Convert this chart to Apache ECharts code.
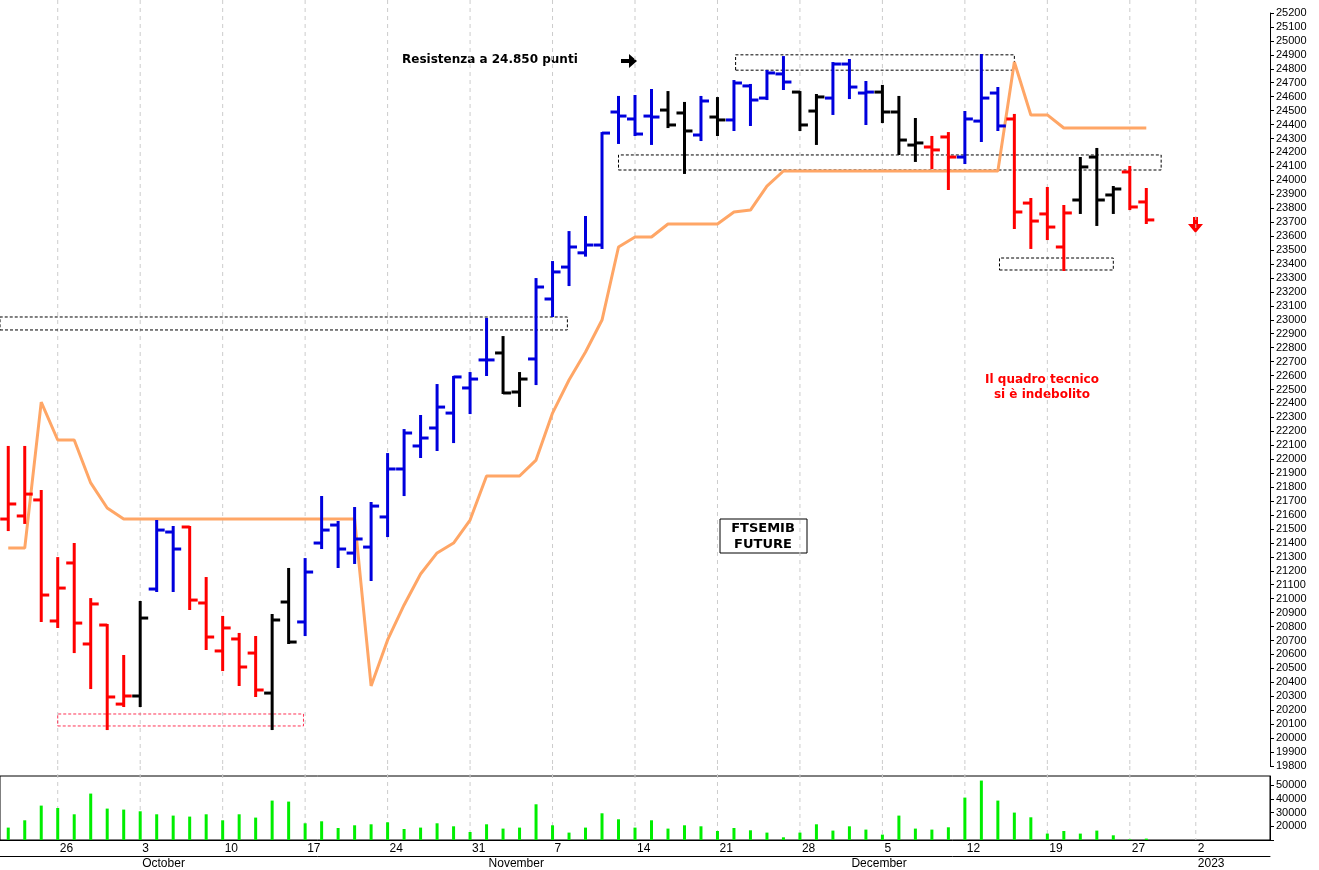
<!DOCTYPE html>
<html>
<head>
<meta charset="utf-8">
<script src="https://cdn.jsdelivr.net/npm/echarts@6/dist/echarts.min.js"></script>
<style>
html,body{margin:0;padding:0;background:#fff;}
#chart{width:1319px;height:870px;}
</style>
</head>
<body>
<div id="chart"></div>
<script>
// OHLC FTSEMIB future, dal 21 set 2022 al 28 dic 2022 (indice = giorno di borsa)
var opens  = [21571,21593,21708,20840,21256,20675,20811,20244,20302,21069,21478,21514,20969,20625,20711,20610,20323,20976,20833,21399,
              21528,21327,21370,21586,21930,22095,22224,22331,22511,22712,22762,22482,22719,23149,23378,23480,23536,24490,24440,24461,
              24504,24483,24325,24454,24433,24677,24590,24763,24633,24497,24590,24834,24626,24633,24490,24253,24239,24311,24167,24425,
              24626,24440,23837,23759,23522,23859,24167,23895,24060,23845];
var highs  = [22088,22088,21772,21291,21392,20997,20811,20589,20976,21557,21514,21514,21148,20869,20747,20725,20883,21213,21284,21729,
              21550,21650,21686,22037,22209,22310,22532,22590,22618,23006,22876,22618,23292,23414,23629,23737,24339,24598,24605,24648,
              24633,24555,24598,24590,24712,24684,24784,24884,24633,24612,24841,24863,24705,24677,24598,24440,24311,24339,24490,24899,
              24662,24469,23866,23945,23816,24160,24225,23952,24096,23938];
var lows   = [21492,21543,20840,20797,20617,20359,20065,20230,20230,21055,21055,20926,20639,20488,20381,20302,20065,20682,20739,21363,
              21227,21256,21134,21449,21743,22016,22066,22123,22331,22604,22475,22382,22539,23027,23249,23460,23515,24268,24325,24261,
              24382,24053,24289,24325,24361,24397,24583,24655,24361,24261,24476,24590,24404,24418,24189,24139,24088,23938,24124,24282,
              24361,23658,23515,23579,23357,23766,23680,23766,23794,23694];
var closes = [21679,21750,21026,21076,20825,20962,20295,20302,20861,21492,21356,20990,20725,20790,20510,20345,20847,20689,21191,21492,
              21356,21428,21664,21930,22188,22152,22374,22590,22575,22712,22475,22575,23235,23343,23522,23536,24339,24461,24332,24454,
              24397,24354,24569,24433,24698,24576,24770,24705,24397,24598,24834,24669,24633,24490,24289,24268,24218,24167,24440,24590,
              24390,23773,23708,23665,23766,24096,23859,23938,23809,23716];
// segnale: r = ribasso, b = rialzo, k = neutro
var signals = 'rrrrrrrrkbbrrrrrkkbbbbbbbbbbbbkkbbbbbbbbkkbkbbbbkkbbbkkkrrbbbrrrrkkkrr'.split('');
// linea arancio (stop)
var stopLine = [21363,21363,22410,22138,22138,21830,21650,21571,21571,21571,21571,21571,21571,21571,21571,21571,21571,21571,21571,21571,
                21571,21571,20374,20704,20955,21177,21328,21399,21564,21880,21880,21880,21994,22331,22568,22769,22998,23522,23594,23594,
                23687,23687,23687,23687,23773,23787,23959,24067,24067,24067,24067,24067,24067,24067,24067,24067,24067,24067,24067,24067,
                24067,24849,24469,24469,24375,24375,24375,24375,24375,24375];
var volumes = [19050,24380,35100,33360,28760,43870,32920,32190,30950,28760,27810,27080,28760,24380,28760,26350,38760,38030,22190,23650,
               18760,20730,21460,22920,18030,19050,22190,20000,15840,21460,18320,19050,36060,20730,15400,19050,29490,25110,19050,24380,
               18320,20730,20000,16570,18760,17080,15400,11970,15400,21460,16860,20000,17590,13940,27810,18320,17590,19270,40950,53360,
               38760,30000,26570,14670,16570,14670,16860,13430,10510,11020];
var weekStarts = [3,8,13,18,23,28,33,38,43,48,53,58,63,68,72];
var weekLabels = ['26','3','10','17','24','31','7','14','21','28','5','12','19','27','2'];
var monthStarts = [8,29,51,72];
var monthLabels = ['October','November','December','2023'];
var nSlots = 77;
// rettangoli tratteggiati: [k1, k2, p1, p2]
var boxes = [[44.1,61.0,24790,24900],[37.0,69.9,24074,24182],[-0.5,33.9,22927,23020],[60.1,67.0,23357,23443]];
var redBox = [3.0,17.9,20087,20173];

var cats = [];
for (var i = 0; i < nSlots; i++) cats.push(String(i));
var ohlc = opens.map(function (o, i) { return [i, o, highs[i], lows[i], closes[i]]; });
var line = stopLine.map(function (v, i) { return [i, v]; });
var colorOf = {r: '#ff0000', b: '#0000dd', k: '#000000'};
var labelFont = 'Liberation Sans, Arial, sans-serif';

function boxArea(b, col) {
    return [{xAxis: b[0], yAxis: b[2], itemStyle: {color: 'rgba(0,0,0,0)', borderColor: col, borderWidth: 1, borderType: [3, 2]}},
            {xAxis: b[1], yAxis: b[3]}];
}
// linee verticali tratteggiate ai lunedi, sotto le barre
function gridLines(params, api) {
    var x = api.coord([api.value(0), 0])[0];
    var cs = params.coordSys;
    return {type: 'line', shape: {x1: x, y1: cs.y - 13, x2: x, y2: cs.y + cs.height},
        style: {stroke: '#cccccc', lineWidth: 1, lineDash: [4, 4]}, silent: true};
}

var option = {
    animation: false,
    backgroundColor: '#fff',
    grid: [
        {left: 0, width: 1270, top: 13, height: 753},
        {left: 0, width: 1270, top: 776, height: 64, show: true, borderColor: '#000', borderWidth: 1}
    ],
    xAxis: [
        {type: 'value', gridIndex: 0, min: -0.5, max: nSlots - 0.5, show: false},
        {
            type: 'category', gridIndex: 1, data: cats, boundaryGap: true,
            axisLine: {onZero: false, lineStyle: {color: '#000'}},
            axisTick: {alignWithLabel: true, length: 16, lineStyle: {color: '#000'},
                interval: function (i) { return weekStarts.indexOf(i) >= 0; }},
            axisLabel: {interval: function (i) { return weekStarts.indexOf(i) >= 0; }, align: 'left', margin: 3,
                padding: [0, 0, 0, 2], fontSize: 12, fontFamily: labelFont, color: '#000',
                formatter: function (v) { var j = weekStarts.indexOf(Number(v)); return j >= 0 ? weekLabels[j] : ''; }},
            splitLine: {show: false}
        },
        {
            type: 'category', gridIndex: 1, data: cats, boundaryGap: true, position: 'bottom', offset: 16,
            axisLine: {onZero: false, lineStyle: {color: '#000'}},
            axisTick: {alignWithLabel: true, length: 14, lineStyle: {color: '#000'},
                interval: function (i) { return monthStarts.indexOf(i) >= 0; }},
            axisLabel: {interval: function (i) { return monthStarts.indexOf(i) >= 0; }, align: 'left', margin: 2,
                padding: [0, 0, 0, 2], fontSize: 12, fontFamily: labelFont, color: '#000',
                formatter: function (v) { var j = monthStarts.indexOf(Number(v)); return j >= 0 ? monthLabels[j] : ''; }}
        }
    ],
    yAxis: [
        {
            type: 'value', gridIndex: 0, position: 'right', min: 19800, max: 25200, interval: 100,
            axisLine: {show: true, onZero: false, lineStyle: {color: '#000'}},
            axisTick: {show: true, length: 4, lineStyle: {color: '#000'}},
            axisLabel: {fontSize: 11, fontFamily: labelFont, color: '#000', margin: 6,
                formatter: function (v) { return String(v); }},
            splitLine: {show: false}
        },
        {
            type: 'value', gridIndex: 1, position: 'right', min: 10000, max: 56700, interval: 10000,
            axisLine: {show: true, onZero: false, lineStyle: {color: '#000'}},
            axisTick: {show: true, length: 4, lineStyle: {color: '#000'}},
            axisLabel: {fontSize: 11, fontFamily: labelFont, color: '#000', margin: 6, showMaxLabel: false,
                formatter: function (v) { return v === 10000 ? '' : String(v); }},
            splitLine: {show: false}
        }
    ],
    series: [
        {
            type: 'custom', xAxisIndex: 0, yAxisIndex: 0, z: 0, silent: true,
            data: weekStarts.map(function (k) { return [k, 22000]; }), renderItem: gridLines
        },
        {
            type: 'custom', xAxisIndex: 1, yAxisIndex: 1, z: 0, silent: true,
            data: weekStarts.map(function (k) { return [k, 20000]; }),
            renderItem: function (params, api) {
                var x = api.coord([api.value(0), 20000])[0];
                var cs = params.coordSys;
                return {type: 'line', shape: {x1: x, y1: cs.y - 10, x2: x, y2: cs.y + cs.height},
                    style: {stroke: '#cccccc', lineWidth: 1, lineDash: [4, 4]}};
            }
        },
        {
            // rettangoli tratteggiati
            type: 'line', xAxisIndex: 0, yAxisIndex: 0, data: [], z: 1,
            markArea: {
                silent: true, label: {show: false},
                data: boxes.map(function (b) { return boxArea(b, '#000'); }).concat([boxArea(redBox, '#ff3355')])
            }
        },
        {
            type: 'line', xAxisIndex: 0, yAxisIndex: 0, data: line, symbol: 'none',
            lineStyle: {color: '#ffa666', width: 3}, z: 2
        },
        {
            type: 'custom', xAxisIndex: 0, yAxisIndex: 0, data: ohlc, z: 3,
            encode: {x: 0, y: [1, 2, 3, 4]},
            renderItem: function (params, api) {
                var k = api.value(0);
                var o = api.coord([k, api.value(1)]), h = api.coord([k, api.value(2)]),
                    l = api.coord([k, api.value(3)]), c = api.coord([k, api.value(4)]);
                var col = colorOf[signals[params.dataIndex]];
                var x = o[0], w = 8, st = {stroke: col, lineWidth: 3};
                return {type: 'group', children: [
                    {type: 'line', shape: {x1: x, y1: h[1] - 1, x2: x, y2: l[1] + 1}, style: st},
                    {type: 'line', shape: {x1: x - w, y1: o[1], x2: x, y2: o[1]}, style: st},
                    {type: 'line', shape: {x1: x, y1: c[1], x2: x + w, y2: c[1]}, style: st}
                ]};
            }
        },
        {
            type: 'bar', xAxisIndex: 1, yAxisIndex: 1, data: volumes, barWidth: 3, z: 3,
            itemStyle: {color: '#00ee00'}
        }
    ],
    graphic: [
        {type: 'text', left: 402, top: 54, style: {text: 'Resistenza a 24.850 punti', font: 'bold 12px DejaVu Sans, sans-serif', fill: '#000'}},
        {type: 'polygon', shape: {points: [[621, 59], [629, 59], [629, 54], [637, 61], [629, 68], [629, 63], [621, 63]]}, style: {fill: '#000'}},
        {type: 'polygon', shape: {points: [[1193, 217], [1198, 217], [1198, 224], [1203, 224], [1195.5, 233], [1188, 224], [1193, 224]]}, style: {fill: '#ff0000'}},
        {type: 'text', x: 1042, y: 372, style: {text: 'Il quadro tecnico\nsi è indebolito', align: 'center', lineHeight: 15,
            font: 'bold 12px DejaVu Sans, sans-serif', fill: '#ff0000'}},
        {type: 'rect', shape: {x: 720, y: 519, width: 87, height: 34}, style: {fill: '#fff', stroke: '#000', lineWidth: 1}},
        {type: 'text', x: 763, y: 521, style: {text: 'FTSEMIB\nFUTURE', align: 'center', lineHeight: 16,
            font: 'bold 13px DejaVu Sans, sans-serif', fill: '#000'}}
    ]
};
var mychart = echarts.init(document.getElementById('chart'));
mychart.setOption(option);
</script>
</body>
</html>
